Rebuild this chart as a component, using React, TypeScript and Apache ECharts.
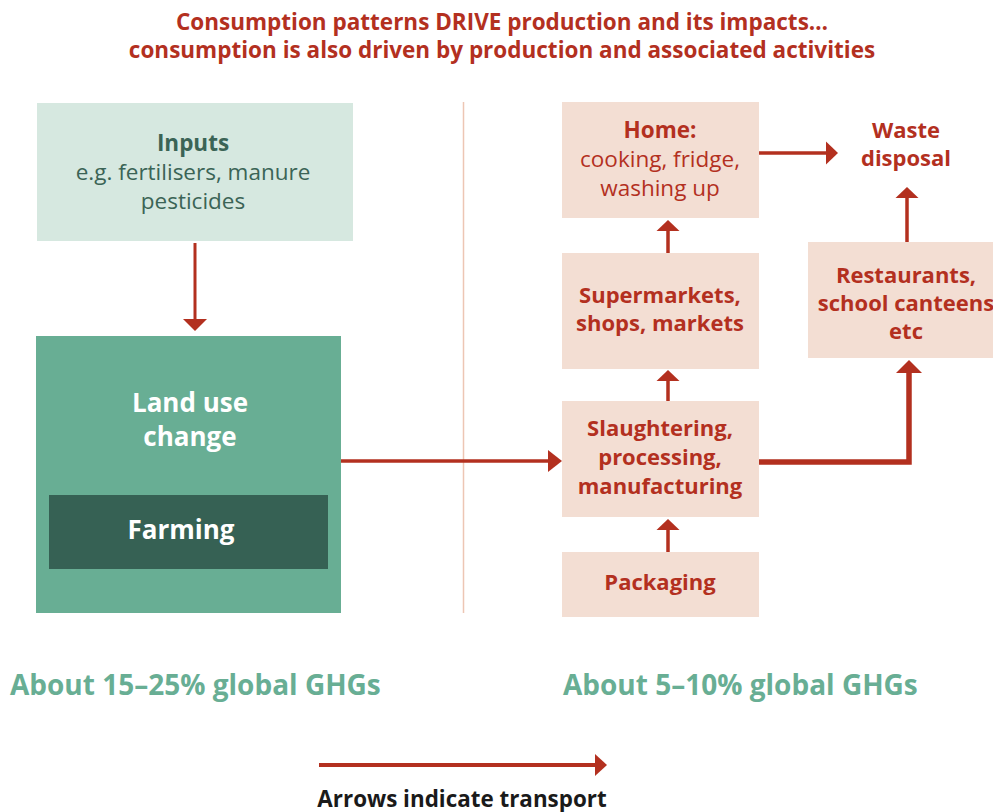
import React, { useEffect, useRef } from "react";
import * as echarts from "echarts";

const RED = "#B3301F";
const PEACH = "#F3DED3";
const LIGHT_GREEN = "#D6E8E0";
const MID_GREEN = "#68AE94";
const DARK_GREEN = "#366154";
const INPUT_TEXT = "#3B6456";
const FONT = "'Open Sans', 'Noto Sans', sans-serif";

const titleLines = [
  "Consumption patterns DRIVE production and its impacts…",
  "consumption is also driven by production and associated activities",
];
const inputsLines = ["Inputs", "e.g. fertilisers, manure", "pesticides"];
const landLines = ["Land use", "change"];
const farmingLines = ["Farming"];
const homeLines = ["Home:", "cooking, fridge,", "washing up"];
const superLines = ["Supermarkets,", "shops, markets"];
const slaughterLines = ["Slaughtering,", "processing,", "manufacturing"];
const packagingLines = ["Packaging"];
const wasteLines = ["Waste", "disposal"];
const restaurantLines = ["Restaurants,", "school canteens", "etc"];
const ghgLabels = ["About 15–25% global GHGs", "About 5–10% global GHGs"];
const legendLabel = "Arrows indicate transport";

function txt(x: number, y: number, s: string, size: number, weight: string, fill: string, align = "center") {
  return {
    type: "text",
    x,
    y,
    silent: true,
    style: {
      text: s,
      fill,
      fontFamily: FONT,
      fontSize: size,
      fontWeight: weight,
      align,
      verticalAlign: "middle",
      textAlign: align,
      textVerticalAlign: "middle",
    },
  };
}

function rect(x: number, y: number, w: number, h: number, fill: string) {
  return { type: "rect", shape: { x, y, width: w, height: h }, style: { fill }, silent: true };
}

// arrow: points polyline, last point is tip; head along last segment
function arrow(pts: number[][], lw: number, headLen: number, headW: number) {
  const n = pts.length;
  const [x1, y1] = pts[n - 2];
  const [x2, y2] = pts[n - 1];
  const dx = x2 - x1;
  const dy = y2 - y1;
  const len = Math.sqrt(dx * dx + dy * dy);
  const ux = dx / len;
  const uy = dy / len;
  const bx = x2 - ux * headLen;
  const by = y2 - uy * headLen;
  const px = -uy;
  const py = ux;
  const shaft = pts.slice(0, n - 1).concat([[bx + ux * 1, by + uy * 1]]);
  return [
    {
      type: "polyline",
      shape: { points: shaft },
      style: { stroke: RED, lineWidth: lw, fill: null, lineJoin: "miter" },
      silent: true,
    },
    {
      type: "polygon",
      shape: {
        points: [
          [x2, y2],
          [bx + px * headW / 2, by + py * headW / 2],
          [bx - px * headW / 2, by - py * headW / 2],
        ],
      },
      style: { fill: RED },
      silent: true,
    },
  ];
}

function lines(cx: number, y0: number, step: number, arr: string[], size: number, weight: string | ((i: number) => string), fill: string) {
  return arr.map((s, i) => txt(cx, y0 + i * step, s, size, typeof weight === "function" ? weight(i) : weight, fill));
}

export default function App() {
  const ref = useRef<HTMLDivElement>(null);
  useEffect(() => {
    if (!ref.current) return;
    const chart = echarts.init(ref.current, null, { renderer: "svg" });
    const elements: any[] = [
      ...lines(502, 21, 28, titleLines, 22.5, "bold", RED),
      // divider
      { type: "line", shape: { x1: 463.5, y1: 102, x2: 463.5, y2: 613 }, style: { stroke: "#EDC6B4", lineWidth: 1.5 }, silent: true },
      // inputs
      rect(37, 103, 316, 138, LIGHT_GREEN),
      ...lines(193, 142, 29, inputsLines, 22.5, (i) => (i === 0 ? "bold" : "normal"), INPUT_TEXT),
      // land use
      rect(36, 336, 305, 277, MID_GREEN),
      ...lines(190, 402, 34, landLines, 26, "bold", "#FFFFFF"),
      rect(49, 495, 279, 74, DARK_GREEN),
      ...lines(181, 529, 34, farmingLines, 26, "bold", "#FFFFFF"),
      // right boxes
      rect(562, 102, 197, 116, PEACH),
      ...lines(660, 129, 29, homeLines, 22.5, (i) => (i === 0 ? "bold" : "normal"), RED),
      rect(562, 253, 197, 116, PEACH),
      ...lines(660, 294, 28, superLines, 22, "bold", RED),
      rect(562, 401, 197, 116, PEACH),
      ...lines(660, 427, 29, slaughterLines, 22, "bold", RED),
      rect(562, 552, 197, 65, PEACH),
      ...lines(660, 581, 29, packagingLines, 22, "bold", RED),
      rect(808, 242, 200, 116, PEACH),
      ...lines(906, 274, 28, restaurantLines, 22, "bold", RED),
      ...lines(906, 129, 28, wasteLines, 22, "bold", RED),
      // arrows
      ...arrow([[195, 243], [195, 331]], 3, 12, 24),
      ...arrow([[341, 461], [562, 461]], 3.5, 14, 22),
      ...arrow([[668, 401], [668, 370]], 3.5, 11, 23),
      ...arrow([[668, 253], [668, 220]], 3.5, 11, 23),
      ...arrow([[668, 552], [668, 519]], 3.5, 11, 23),
      ...arrow([[759, 153], [838, 153]], 3.5, 12, 23),
      ...arrow([[907, 242], [907, 187]], 3.5, 11, 23),
      ...arrow([[759, 462], [909, 462], [909, 360]], 5.5, 13, 26),
      // GHG labels
      txt(10, 684, ghgLabels[0], 28, "bold", MID_GREEN, "left"),
      txt(563, 684, ghgLabels[1], 28, "bold", MID_GREEN, "left"),
      // legend
      ...arrow([[319, 765], [607, 765]], 4, 12, 22),
      txt(462, 798, legendLabel, 22.4, "bold", "#1A1A1A"),
    ];
    chart.setOption({
      animation: false,
      backgroundColor: "#FFFFFF",
      graphic: { elements },
    });
    return () => chart.dispose();
  }, []);
  return <div ref={ref} style={{ position: "fixed", left: 0, top: 0, width: 993, height: 812 }} />;
}
